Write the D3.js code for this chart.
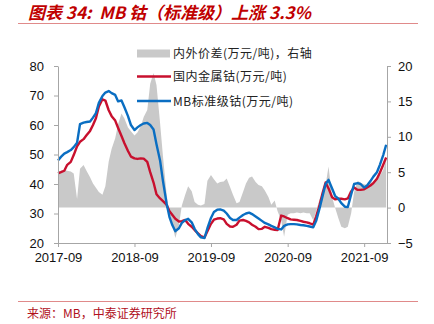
<!DOCTYPE html>
<html><head><meta charset="utf-8">
<script src="https://cdn.jsdelivr.net/npm/d3@7/dist/d3.min.js"></script>
<style>body{margin:0;background:#fff} svg{display:block}</style>
</head><body><svg id="c" width="434" height="324"></svg>
<script>
const dates = [
"2017-09-01","2017-09-15","2017-10-01","2017-10-15","2017-11-01","2017-11-15","2017-12-01","2017-12-15",
"2018-01-01","2018-01-15","2018-02-01","2018-02-15","2018-03-01","2018-03-15","2018-04-01","2018-04-15",
"2018-05-01","2018-05-15","2018-06-01","2018-06-15","2018-07-01","2018-07-15","2018-08-01","2018-08-15",
"2018-09-01","2018-09-15","2018-10-01","2018-10-15","2018-11-01","2018-11-15","2018-12-01","2018-12-15",
"2019-01-01","2019-01-15","2019-02-01","2019-02-15","2019-03-01","2019-03-15","2019-04-01","2019-04-15",
"2019-05-01","2019-05-15","2019-06-01","2019-06-15","2019-07-01","2019-07-15","2019-08-01","2019-08-15",
"2019-09-01","2019-09-15","2019-10-01","2019-10-15","2019-11-01","2019-11-15","2019-12-01","2019-12-15",
"2020-01-01","2020-01-15","2020-02-01","2020-02-15","2020-03-01","2020-03-15","2020-04-01","2020-04-15",
"2020-05-01","2020-05-15","2020-06-01","2020-06-15","2020-07-01","2020-07-15","2020-08-01","2020-08-15",
"2020-09-01","2020-09-15","2020-10-01","2020-10-15","2020-11-01","2020-11-15","2020-12-01","2020-12-15",
"2021-01-01","2021-01-15","2021-02-01","2021-02-15","2021-03-01","2021-03-15","2021-04-01","2021-04-15",
"2021-05-01","2021-05-15","2021-06-01","2021-06-15","2021-07-01","2021-07-15","2021-08-01","2021-08-15",
"2021-09-01","2021-09-15","2021-10-01","2021-10-15","2021-11-01","2021-11-15","2021-12-01","2021-12-15"];

// 国内金属钴 (万元/吨), left axis
const domesticCobalt = [
43.6,44.0,44.5,46.5,47.5,49.8,52.8,54.3,
55.2,56.5,58.0,60.0,62.3,66.3,68.7,68.3,65.0,63.0,61.5,59.0,56.3,53.8,51.2,49.3,
48.7,48.5,48.7,48.6,47.5,44.0,40.5,36.5,
35.1,34.2,33.0,30.8,29.5,28.2,27.3,27.4,27.8,26.5,25.5,24.4,23.3,22.3,21.9,24.0,
26.5,27.9,28.3,28.4,28.0,26.5,25.6,25.5,
26.2,27.6,27.8,27.5,27.0,26.2,25.5,24.7,24.8,25.5,25.1,24.7,24.5,24.4,29.3,29.0,
28.4,28.0,27.9,27.8,27.5,27.2,27.0,26.7,
26.2,29.0,33.0,37.0,40.5,38.5,35.5,34.8,35.0,35.0,34.8,35.1,37.5,38.8,38.0,38.0,
38.2,38.8,39.5,40.3,41.8,43.8,46.5,49.0];

// MB标准级钴 (万元/吨), left axis
const mbCobalt = [
48.0,49.2,50.3,50.8,51.5,52.5,54.0,60.3,
60.8,61.0,61.2,62.5,64.0,67.5,69.8,71.0,71.5,70.8,70.2,68.0,68.3,66.0,63.0,60.0,
58.3,59.2,60.0,60.5,60.7,60.0,58.5,53.5,
48.0,41.0,33.5,28.8,26.0,24.0,25.0,26.8,27.8,28.2,27.0,24.8,23.0,21.9,21.7,25.0,
28.5,30.5,31.3,31.4,31.0,30.0,28.5,27.8,
27.8,28.6,29.5,30.0,30.3,29.8,29.0,28.3,27.5,26.8,26.3,25.8,25.3,24.8,24.6,25.8,
26.3,26.4,26.4,26.3,26.1,26.0,25.8,25.6,
25.3,27.5,32.0,36.0,40.0,41.4,38.5,36.0,35.0,33.5,32.3,32.2,36.5,40.0,40.3,40.0,
38.8,39.5,41.0,42.5,44.0,46.5,49.8,53.3];

// 内外价差 (万元/吨), right axis
const priceSpread = [
5.0,5.2,5.3,5.2,5.1,4.8,1.2,5.5,
6.0,5.2,4.3,3.4,2.8,2.2,1.8,3.0,6.5,8.3,9.8,11.8,13.3,12.6,11.3,10.8,
10.2,10.6,11.5,12.8,13.8,17.5,19.0,17.3,
12.0,7.2,2.0,-1.0,-2.5,-4.3,-2.5,0.3,1.8,3.0,2.3,0.8,0.4,0.3,0.5,3.8,
4.6,4.0,3.4,3.6,3.7,4.1,2.9,1.8,
0.6,0.8,2.2,3.4,4.2,4.4,3.6,3.2,3.0,2.4,1.5,0.4,1.0,-0.5,-1.8,-4.1,
-1.0,-0.8,-0.8,-0.7,-0.8,-0.7,-0.8,-0.8,
-1.8,-0.5,1.3,2.0,3.2,5.8,1.5,0.0,-1.5,-2.7,-2.9,-2.7,-0.8,2.2,3.8,3.5,
3.3,3.2,3.5,3.7,4.0,4.5,5.3,6.7];

const leftTicks = [20,30,40,50,60,70,80];
const rightTicks = [-5,0,5,10,15,20];
const xTickLabels = ["2017-09","2018-09","2019-09","2020-09","2021-09"];

const titleText = "图表 34:  MB 钴（标准级）上涨 3.3%";
const sourceText = "来源：MB，中泰证券研究所";
const legendLabels = ["内外价差(万元/吨)，右轴", "国内金属钴(万元/吨)", "MB标准级钴(万元/吨)"];

const parse = d3.timeParse("%Y-%m-%d");
const parseM = d3.timeParse("%Y-%m");
const D = dates.map(parse);

const svg = d3.select("#c");
const L = 58, R = 387, T = 66, B = 243;
const RED = "#c8102e", BLUE = "#0a6ec2", GREY = "#c9c9c9", AX = "#a6a6a6";

const x = d3.scaleTime().domain([parse("2017-09-01"), parse("2021-12-19")]).range([L, R]);
const yL = d3.scaleLinear().domain([20, 80]).range([B, T]);
const yR = d3.scaleLinear().domain([-5, 20]).range([B, T]);

// title
svg.append("text").attr("x", 28).attr("y", 19).text(titleText)
  .style("white-space", "pre")
  .attr("font-family", "'Noto Sans CJK SC', sans-serif").attr("font-size", 17)
  .attr("font-weight", "bold").attr("font-style", "italic").attr("fill", "#c00000");
svg.append("line").attr("x1", 18).attr("x2", 418).attr("y1", 23.5).attr("y2", 23.5)
  .attr("stroke", "#e08a8a").attr("stroke-width", 1);

// grey area
const area = d3.area().x((d, i) => x(D[i])).y0(yR(0)).y1(d => yR(d));
svg.append("path").datum(priceSpread).attr("d", area).attr("fill", GREY);

// lines
const lineL = d3.line().x((d, i) => x(D[i])).y(d => yL(d));
svg.append("path").datum(domesticCobalt).attr("d", lineL).attr("fill", "none")
  .attr("stroke", RED).attr("stroke-width", 2.4).attr("stroke-linejoin", "round");
svg.append("path").datum(mbCobalt).attr("d", lineL).attr("fill", "none")
  .attr("stroke", BLUE).attr("stroke-width", 2.4).attr("stroke-linejoin", "round");

// axes
const fontAx = "'Liberation Sans', Arial, sans-serif";
function style(g) {
  g.select(".domain").attr("stroke", AX);
  g.selectAll(".tick line").attr("stroke", AX);
  g.selectAll("text").attr("font-family", fontAx).attr("font-size", 13).attr("fill", "#111");
}
svg.append("g").attr("transform", `translate(${L},0)`)
  .call(d3.axisLeft(yL).tickValues(leftTicks).tickSize(4).tickSizeOuter(0).tickPadding(10))
  .call(style);
svg.append("g").attr("transform", `translate(${R},0)`)
  .call(d3.axisRight(yR).tickValues(rightTicks).tickSize(4).tickSizeOuter(0).tickPadding(7))
  .call(style);
svg.append("g").attr("transform", `translate(0,${B})`)
  .call(d3.axisBottom(x).tickValues(xTickLabels.map(parseM)).tickFormat(d3.timeFormat("%Y-%m"))
    .tickSize(4).tickSizeOuter(0).tickPadding(6))
  .call(style);

// legend
const lg = svg.append("g").attr("font-family", "'Noto Sans CJK SC', sans-serif").attr("font-size", 12)
  .attr("letter-spacing", 0.5).attr("fill", "#222");
lg.append("rect").attr("x", 137).attr("y", 49.5).attr("width", 33).attr("height", 8).attr("fill", GREY);
lg.append("line").attr("x1", 137).attr("x2", 171).attr("y1", 76.5).attr("y2", 76.5).attr("stroke", RED).attr("stroke-width", 2.4);
lg.append("line").attr("x1", 137).attr("x2", 171).attr("y1", 101).attr("y2", 101).attr("stroke", BLUE).attr("stroke-width", 2.4);
[53.5, 77, 101.5].forEach((yy, i) => {
  lg.append("text").attr("x", 173).attr("y", yy).attr("dy", "0.35em").text(legendLabels[i]);
});

// source
svg.append("line").attr("x1", 18).attr("x2", 418).attr("y1", 301.5).attr("y2", 301.5)
  .attr("stroke", "#e08a8a").attr("stroke-width", 1);
svg.append("text").attr("x", 27).attr("y", 318).text(sourceText)
  .attr("font-family", "'Noto Sans CJK SC', sans-serif").attr("font-size", 12).attr("fill", "#b0101c");
</script></body></html>
